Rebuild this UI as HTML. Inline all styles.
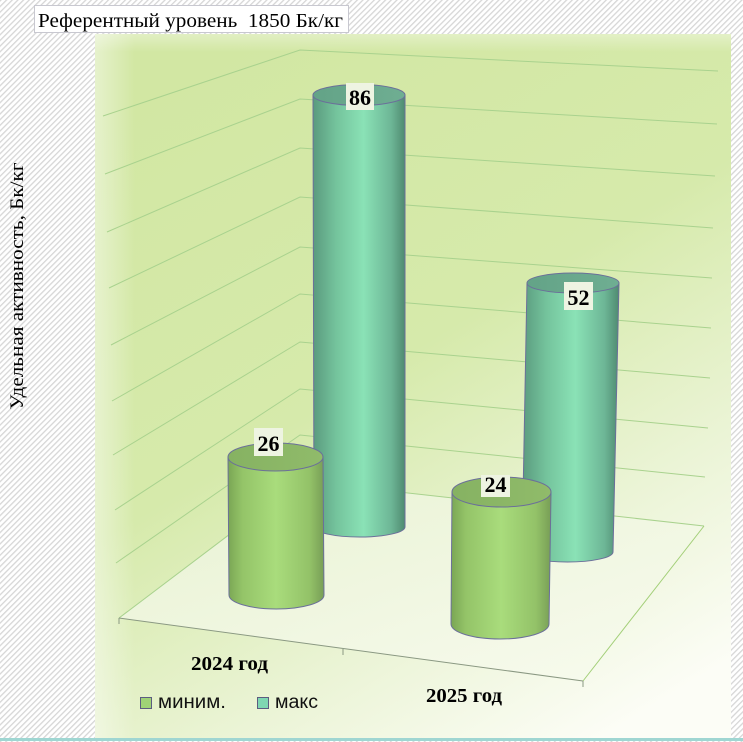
<!DOCTYPE html>
<html><head><meta charset="utf-8">
<style>
html,body{margin:0;padding:0;background:#fff;}
svg{display:block;}
</style></head>
<body>
<svg width="743" height="742" viewBox="0 0 743 742" xmlns="http://www.w3.org/2000/svg">
<defs>
  <pattern id="hatch" width="4" height="4" patternUnits="userSpaceOnUse" patternTransform="rotate(45)">
    <rect width="4" height="4" fill="#ffffff"/>
    <rect width="1.3" height="4" fill="#d6d6d6"/>
  </pattern>
  <linearGradient id="bg" x1="0.25" y1="0" x2="0.8" y2="1">
    <stop offset="0" stop-color="#d2e7a3"/>
    <stop offset="0.45" stop-color="#d6eaab"/>
    <stop offset="0.75" stop-color="#ebf4d6"/>
    <stop offset="1" stop-color="#fcfdf6"/>
  </linearGradient>
  <linearGradient id="leftband" x1="0" y1="0" x2="1" y2="0">
    <stop offset="0" stop-color="#ffffff" stop-opacity="0.45"/>
    <stop offset="1" stop-color="#ffffff" stop-opacity="0"/>
  </linearGradient>
  <linearGradient id="topband" x1="0" y1="0" x2="0" y2="1">
    <stop offset="0" stop-color="#ffffff" stop-opacity="0.35"/>
    <stop offset="1" stop-color="#ffffff" stop-opacity="0"/>
  </linearGradient>
  <linearGradient id="floor" x1="0" y1="0" x2="1" y2="1">
    <stop offset="0" stop-color="#e8f2d2"/>
    <stop offset="1" stop-color="#f8fbef"/>
  </linearGradient>
  <linearGradient id="gbody" x1="0" y1="0" x2="1" y2="0">
    <stop offset="0" stop-color="#7aa654"/>
    <stop offset="0.15" stop-color="#94c468"/>
    <stop offset="0.5" stop-color="#a9dc7c"/>
    <stop offset="0.85" stop-color="#93c268"/>
    <stop offset="1" stop-color="#789e56"/>
  </linearGradient>
  <linearGradient id="tbody" x1="0" y1="0" x2="1" y2="0">
    <stop offset="0" stop-color="#5a9a7e"/>
    <stop offset="0.25" stop-color="#74c39c"/>
    <stop offset="0.55" stop-color="#8ae2b6"/>
    <stop offset="0.85" stop-color="#6db696"/>
    <stop offset="1" stop-color="#4f8a70"/>
  </linearGradient>
  <linearGradient id="gtop" x1="0" y1="0" x2="1" y2="0">
    <stop offset="0" stop-color="#86b262"/>
    <stop offset="1" stop-color="#90bb6a"/>
  </linearGradient>
  <linearGradient id="ttop" x1="0" y1="0" x2="1" y2="0">
    <stop offset="0" stop-color="#63a387"/>
    <stop offset="1" stop-color="#6fae92"/>
  </linearGradient>
</defs>

<!-- hatched background -->
<rect x="0" y="0" width="743" height="742" fill="url(#hatch)"/>
<rect x="0" y="738" width="743" height="3" fill="#9fd6d2"/>

<!-- plot area -->
<rect x="95" y="34" width="636" height="704" fill="url(#bg)"/>
<rect x="95" y="34" width="40" height="704" fill="url(#leftband)"/>
<rect x="95" y="34" width="636" height="18" fill="url(#topband)"/>

<!-- floor -->
<polygon points="119,618 300,481 704,526 583,681" fill="url(#floor)"/>

<!-- gridlines -->
<g fill="none" stroke="#a9d28e" stroke-width="1">
  <polyline points="103,116 300,50 718,71"/>
  <polyline points="105,174 300,99 717,124"/>
  <polyline points="107,232 300,148 715,176"/>
  <polyline points="109,288 300,197 713,228"/>
  <polyline points="111,345 300,247 712,278"/>
  <polyline points="112,401 300,294 711,328"/>
  <polyline points="113,455 300,342 710,378"/>
  <polyline points="115,510 300,389 708,428"/>
  <polyline points="116,563 300,435 705,477"/>
  <polyline points="119,618 300,481 704,526"/>
</g>
<line x1="583" y1="681" x2="704" y2="526" stroke="#a3cf78" stroke-width="1"/>
<g stroke="#8a9882" stroke-width="1" fill="none">
  <line x1="119" y1="618" x2="583" y2="681"/>
  <line x1="119" y1="618" x2="119" y2="624"/>
  <line x1="343" y1="649" x2="343" y2="655"/>
  <line x1="583" y1="681" x2="583" y2="687"/>
</g>

<!-- 2024 max (teal) -->
<path d="M313,95 L314,527 A45.5,10 0 0 0 405,527 L405,95 Z" fill="url(#tbody)" stroke="#6b6f9a" stroke-width="1"/>
<ellipse cx="359" cy="95" rx="46" ry="10.5" fill="url(#ttop)" stroke="#6b6f9a" stroke-width="1"/>

<!-- 2025 max (teal) -->
<path d="M527,283 L522,552 A45.5,10 0 0 0 613,552 L619,283 Z" fill="url(#tbody)" stroke="#6b6f9a" stroke-width="1"/>
<ellipse cx="573" cy="283" rx="46" ry="10" fill="url(#ttop)" stroke="#6b6f9a" stroke-width="1"/>

<!-- 2024 min (green) -->
<path d="M228,457 L229,595 A47.5,14 0 0 0 324,595 L323,457 Z" fill="url(#gbody)" stroke="#6b6f9a" stroke-width="1"/>
<ellipse cx="275.5" cy="457" rx="47.5" ry="14" fill="url(#gtop)" stroke="#6b6f9a" stroke-width="1"/>

<!-- 2025 min (green) -->
<path d="M452,492 L451,624 A49,15 0 0 0 549,624 L551,492 Z" fill="url(#gbody)" stroke="#6b6f9a" stroke-width="1"/>
<ellipse cx="501.5" cy="492" rx="49.5" ry="15" fill="url(#gtop)" stroke="#6b6f9a" stroke-width="1"/>

<!-- data labels -->
<g font-family="Liberation Serif, serif" font-weight="bold" font-size="22" text-anchor="middle" fill="#000">
  <rect x="346" y="83" width="28" height="27" fill="#eef4e2"/>
  <text x="360" y="105">86</text>
  <rect x="254" y="428" width="29" height="28" fill="#eef4e2"/>
  <text x="268.5" y="451">26</text>
  <rect x="564" y="282" width="29" height="28" fill="#eef4e2"/>
  <text x="578.5" y="305">52</text>
  <rect x="481" y="475" width="29" height="22" fill="#eef4e2"/>
  <text x="495.5" y="492">24</text>
</g>

<!-- category labels -->
<g font-family="Liberation Serif, serif" font-weight="bold" font-size="20" fill="#000">
  <text x="191" y="670" textLength="77" lengthAdjust="spacingAndGlyphs">2024 год</text>
  <text x="426" y="702" textLength="76" lengthAdjust="spacingAndGlyphs">2025 год</text>
</g>

<!-- legend -->
<rect x="140.5" y="697.5" width="11" height="11" fill="#9fd276" stroke="#5c5c80" stroke-width="1"/>
<text x="158" y="708" font-family="Liberation Sans, sans-serif" font-size="19" fill="#111" textLength="68" lengthAdjust="spacingAndGlyphs">миним.</text>
<rect x="257.5" y="697.5" width="11" height="11" fill="#7fd7b2" stroke="#5c5c80" stroke-width="1"/>
<text x="275" y="708" font-family="Liberation Sans, sans-serif" font-size="19" fill="#111" textLength="43" lengthAdjust="spacingAndGlyphs">макс</text>

<!-- title box -->
<rect x="34.5" y="5.5" width="314" height="27" fill="#ffffff" stroke="#c8c8d0" stroke-width="1"/>
<text x="38" y="27" font-family="Liberation Serif, serif" font-size="20" fill="#000" textLength="305" lengthAdjust="spacingAndGlyphs" xml:space="preserve">Референтный уровень  1850 Бк/кг</text>

<!-- y axis title -->
<text transform="translate(23,286) rotate(-90)" text-anchor="middle" font-family="Liberation Serif, serif" font-size="19" fill="#000" textLength="247" lengthAdjust="spacingAndGlyphs">Удельная активность, Бк/кг</text>
</svg>
</body></html>
